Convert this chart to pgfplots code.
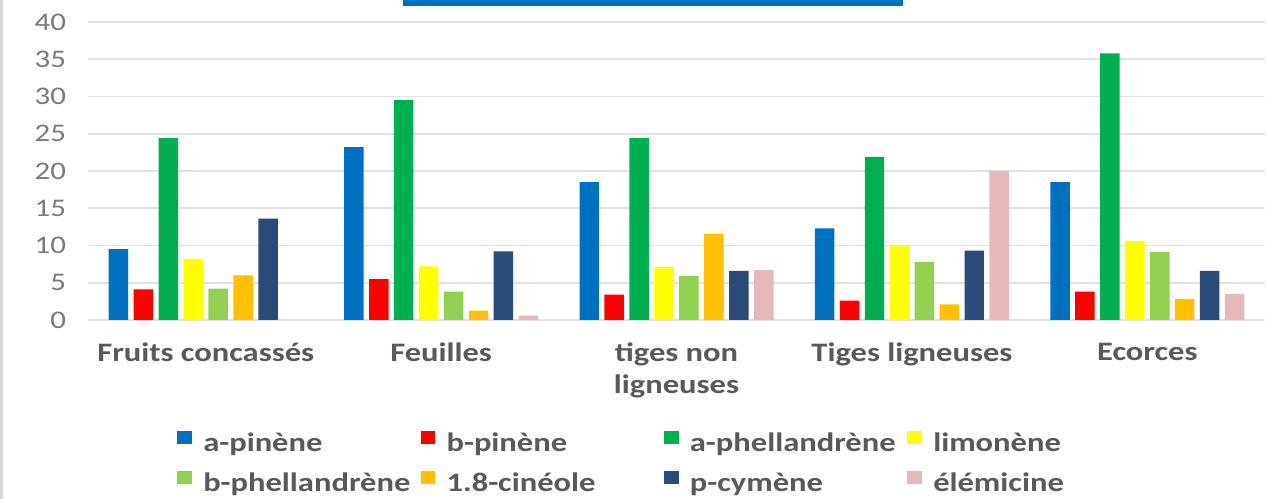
\documentclass[border=0pt]{standalone}
\usepackage{fontspec}
\setmainfont{Carlito}[FakeStretch=1.22]
\usepackage{pgfplots}
\usepackage{pgfplotstable}
\pgfplotsset{compat=1.18}

\definecolor{cApin}{HTML}{0070C0}
\definecolor{cBpin}{HTML}{FF0000}
\definecolor{cAphel}{HTML}{00B050}
\definecolor{cLimo}{HTML}{FFFF00}
\definecolor{cBphel}{HTML}{92D050}
\definecolor{cCin}{HTML}{FFC000}
\definecolor{cPcym}{HTML}{2A4A78}
\definecolor{cElem}{HTML}{E6B8B7}
\definecolor{txt}{HTML}{595959}
\definecolor{tickc}{HTML}{7A7A7A}
\definecolor{gridc}{HTML}{E2E2E2}
\definecolor{framec}{HTML}{D6D6D6}

% composition (%) of the essential oil by plant part
\pgfplotstableread{
x apin bpin aphel limo bphel cin  pcym elem
0 9.5  4.1  24.4  8.2  4.2   6.0  13.6 nan
1 23.2 5.5  29.5  7.2  3.8   1.25 9.2  0.6
2 18.5 3.4  24.4  7.1  5.9   11.6 6.6  6.7
3 12.3 2.6  21.9  9.9  7.8   2.1  9.3  20.0
4 18.5 3.8  35.8  10.6 9.1   2.8  6.6  3.5
}\oils

\begin{document}
\begin{tikzpicture}
\useasboundingbox (0,0) rectangle (950.25pt,374.25pt);
\fill[framec] (0,0) rectangle (2.5pt,374.25pt);
\fill[cApin] (302.25pt,369.75pt) rectangle (677.25pt,374.25pt);
\begin{axis}[
  at={(66pt,134.25pt)}, anchor=south west,
  scale only axis, width=882.75pt, height=223.5pt,
  xmin=-0.5, xmax=4.5, ymin=0, ymax=40,
  ybar=4.1pt, bar width=14.6pt,
  ytick={0,5,...,40},
  xtick={0,1,2,3,4},
  xticklabels={Fruits concassés, Feuilles, {tiges non\\ligneuses}, Tiges ligneuses, Ecorces},
  axis line style={draw=none},
  tick style={draw=none},
  ymajorgrids, grid style={gridc, line width=1.3pt},
  yticklabel style={font=\fontsize{19}{22}\selectfont, text=tickc, xshift=-13pt},
  xticklabel style={font=\fontsize{20}{24}\selectfont\bfseries, text=txt, align=center, anchor=north, yshift=-9.5pt},
  /pgf/number format/assume math mode=true,
  legend columns=4,
  legend style={draw=none, fill=none, inner sep=0pt,
    at={(0.0756,-0.372)}, anchor=north west,
    font=\fontsize{20}{24}\selectfont\bfseries, text=txt,
    /tikz/every odd column/.append style={column sep=8.5pt},
    /tikz/every even column/.append style={column sep=0pt},
    nodes={text width=163pt, align=left, inner sep=0pt},
    row sep=13pt},
  legend image code/.code={\fill[#1] (0pt,-1pt) rectangle (11pt,9pt);},
  every axis plot/.append style={draw=none},
]
\addplot[fill=cApin]  table[x=x,y=apin]  {\oils};
\addplot[fill=cBpin]  table[x=x,y=bpin]  {\oils};
\addplot[fill=cAphel] table[x=x,y=aphel] {\oils};
\addplot[fill=cLimo]  table[x=x,y=limo]  {\oils};
\addplot[fill=cBphel] table[x=x,y=bphel] {\oils};
\addplot[fill=cCin]   table[x=x,y=cin]   {\oils};
\addplot[fill=cPcym]  table[x=x,y=pcym]  {\oils};
\addplot[fill=cElem]  table[x=x,y=elem]  {\oils};
\legend{a-pinène, b-pinène, a-phellandrène, limonène, b-phellandrène, 1.8-cinéole, p-cymène, élémicine}
\end{axis}
\end{tikzpicture}
\end{document}
